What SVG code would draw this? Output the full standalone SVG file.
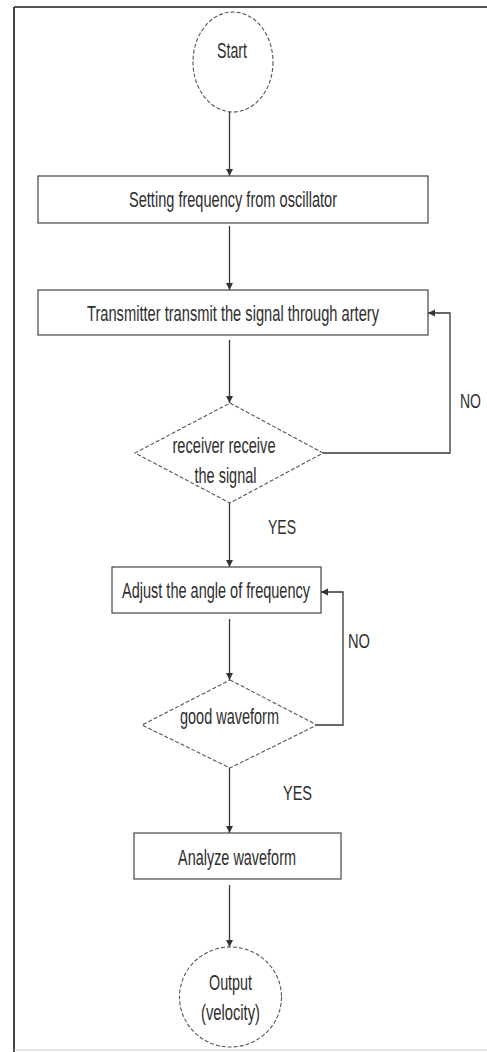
<svg xmlns="http://www.w3.org/2000/svg" width="487" height="1052" viewBox="0 0 487 1052">
<style>
.txt{font-family:"Liberation Sans",Arial,sans-serif;font-size:22px;fill:#2e2e2e;text-anchor:middle}
.lbl{font-family:"Liberation Sans",Arial,sans-serif;font-size:21px;fill:#2e2e2e}
.box{fill:#fff;stroke:#444;stroke-width:1.2}
.dash{fill:#fff;stroke:#555;stroke-width:1.1;stroke-dasharray:4 2}
.con{fill:none;stroke:#3a3535;stroke-width:1.3}
</style>
<defs>
<marker id="ah" markerWidth="8" markerHeight="8" refX="7" refY="3.5" orient="auto" markerUnits="userSpaceOnUse">
<path d="M0,0 L7,3.5 L0,7 Z" fill="#3a3030"/>
</marker>
</defs>
<rect x="0" y="0" width="487" height="1052" fill="#fff"/>
<g id="frame">
<line x1="14" y1="7" x2="487" y2="7" stroke="#555" stroke-width="1.8"/>
<line x1="14" y1="7" x2="14" y2="1052" stroke="#444" stroke-width="2"/>
<line x1="14" y1="1050" x2="487" y2="1050" stroke="#ccc" stroke-width="1"/>
</g>
<g id="connectors">
<line class="con" x1="229.5" y1="112" x2="229.5" y2="176" marker-end="url(#ah)"/>
<line class="con" x1="229.5" y1="226" x2="229.5" y2="290" marker-end="url(#ah)"/>
<line class="con" x1="229.5" y1="340" x2="229.5" y2="403" marker-end="url(#ah)"/>
<line class="con" x1="229.5" y1="503" x2="229.5" y2="567" marker-end="url(#ah)"/>
<line class="con" x1="229.5" y1="619" x2="229.5" y2="680" marker-end="url(#ah)"/>
<line class="con" x1="229.5" y1="768" x2="229.5" y2="833" marker-end="url(#ah)"/>
<line class="con" x1="229.5" y1="885" x2="229.5" y2="947" marker-end="url(#ah)"/>
<polyline class="con" points="323,453 450,453 450,313 428,313" marker-end="url(#ah)"/>
<polyline class="con" points="317,725 343,725 343,592 321,592" marker-end="url(#ah)"/>
<text class="lbl" x="460" y="408" textLength="21" lengthAdjust="spacingAndGlyphs">NO</text>
<text class="lbl" x="268" y="534" textLength="28" lengthAdjust="spacingAndGlyphs">YES</text>
<text class="lbl" x="348" y="648" textLength="22" lengthAdjust="spacingAndGlyphs">NO</text>
<text class="lbl" x="283" y="800" textLength="29" lengthAdjust="spacingAndGlyphs">YES</text>
</g>
<g id="start">
<ellipse class="dash" cx="233" cy="62" rx="40" ry="50"/>
<text class="txt" x="232" y="58" textLength="30" lengthAdjust="spacingAndGlyphs">Start</text>
</g>
<g id="setfreq">
<rect class="box" x="38" y="176" width="390" height="47"/>
<text class="txt" x="233" y="207" textLength="208" lengthAdjust="spacingAndGlyphs">Setting frequency from oscillator</text>
</g>
<g id="transmit">
<rect class="box" x="38" y="290" width="390" height="45"/>
<text class="txt" x="233" y="321" textLength="292" lengthAdjust="spacingAndGlyphs">Transmitter transmit the signal through artery</text>
</g>
<g id="receive">
<polygon class="dash" points="230,403 323,453 230,503 135,453"/>
<text class="txt" x="224" y="453" textLength="103" lengthAdjust="spacingAndGlyphs">receiver receive</text>
<text class="txt" x="225.5" y="483" textLength="62" lengthAdjust="spacingAndGlyphs">the signal</text>
</g>
<g id="adjust">
<rect class="box" x="112" y="567" width="209" height="46"/>
<text class="txt" x="216" y="598" textLength="188" lengthAdjust="spacingAndGlyphs">Adjust the angle of frequency</text>
</g>
<g id="goodwave">
<polygon class="dash" points="230,680 317,725 230,768 142,725"/>
<text class="txt" x="229.5" y="724" textLength="99" lengthAdjust="spacingAndGlyphs">good waveform</text>
</g>
<g id="analyze">
<rect class="box" x="134" y="833" width="207" height="46"/>
<text class="txt" x="237" y="865" textLength="118" lengthAdjust="spacingAndGlyphs">Analyze waveform</text>
</g>
<g id="output">
<ellipse class="dash" cx="230.5" cy="997" rx="51" ry="50"/>
<text class="txt" x="230.5" y="990" textLength="43" lengthAdjust="spacingAndGlyphs">Output</text>
<text class="txt" x="230.5" y="1020" textLength="59" lengthAdjust="spacingAndGlyphs">(velocity)</text>
</g>
</svg>
